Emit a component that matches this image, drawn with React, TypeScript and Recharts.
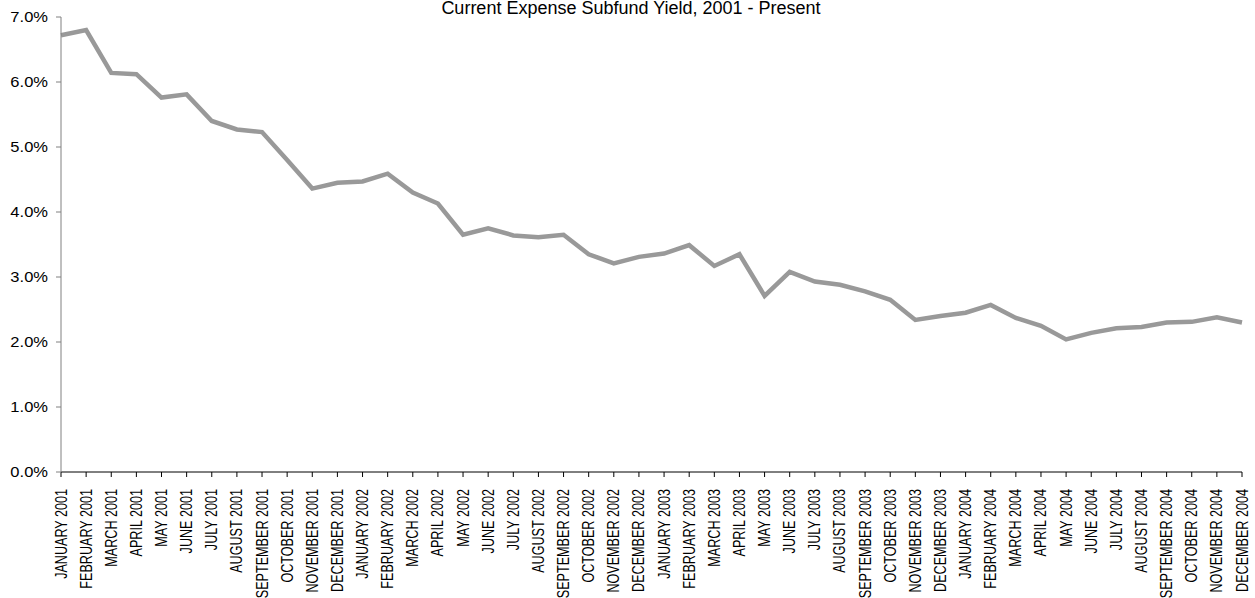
import React from 'react'
import { LineChart, Line, XAxis, YAxis } from 'recharts'

const MONTHS = [
  'JANUARY', 'FEBRUARY', 'MARCH', 'APRIL', 'MAY', 'JUNE',
  'JULY', 'AUGUST', 'SEPTEMBER', 'OCTOBER', 'NOVEMBER', 'DECEMBER',
]
const YEARS = [2001, 2002, 2003, 2004]

// monthly yield in percent, Jan 2001 through Dec 2004
const YIELD_2001 = [6.72, 6.8, 6.14, 6.12, 5.76, 5.81, 5.4, 5.27, 5.23, 4.8, 4.36, 4.45]
const YIELD_2002 = [4.47, 4.59, 4.3, 4.13, 3.65, 3.75, 3.64, 3.61, 3.65, 3.35, 3.21, 3.31]
const YIELD_2003 = [3.36, 3.49, 3.17, 3.35, 2.71, 3.08, 2.93, 2.88, 2.78, 2.65, 2.34, 2.4]
const YIELD_2004 = [2.45, 2.57, 2.37, 2.25, 2.04, 2.14, 2.21, 2.23, 2.3, 2.31, 2.38, 2.3]

const Y_TICKS = [0, 1, 2, 3, 4, 5, 6, 7]

const FONT = "Arial, 'Liberation Sans', sans-serif"

const yields = [YIELD_2001, YIELD_2002, YIELD_2003, YIELD_2004]
const data = YEARS.flatMap((year, yi) =>
  MONTHS.map((m, mi) => ({ month: `${m} ${year}`, yield: yields[yi][mi] }))
)

// month labels run bottom-to-top, glyphs widened a little
// eslint-disable-next-line @typescript-eslint/no-explicit-any
const MonthTick = ({ x, y, payload }: any) => (
  <text
    transform={`translate(${x + 5.5},${y + 12}) scale(1.32,1) rotate(-90)`}
    textAnchor="end"
    fontSize={12.6}
    fontFamily={FONT}
    fill="#000"
  >
    {payload.value}
  </text>
)

// eslint-disable-next-line @typescript-eslint/no-explicit-any
const PercentTick = ({ x, y, payload }: any) => (
  <text
    transform={`translate(${x},${y + 5}) scale(1.18,1)`}
    textAnchor="end"
    fontSize={14}
    fontFamily={FONT}
    fill="#000"
  >
    {`${payload.value.toFixed(1)}%`}
  </text>
)

export default function App() {
  return (
    <div style={{ position: 'absolute', left: 0, top: 0, width: 1255, height: 598, background: '#fff' }}>
      <div
        style={{
          position: 'absolute',
          top: 0,
          left: 0,
          width: 1262,
          textAlign: 'center',
          fontFamily: FONT,
          fontSize: 18,
          lineHeight: '17px',
          color: '#000',
          zIndex: 1,
        }}
      >
        Current Expense Subfund Yield, 2001 - Present
      </div>
      <LineChart
        width={1255}
        height={598}
        data={data}
        margin={{ top: 17, right: 13, bottom: 0, left: 0 }}
      >
        <XAxis
          dataKey="month"
          interval={0}
          height={126}
          tickSize={5}
          tickMargin={0}
          axisLine={{ stroke: '#000' }}
          tickLine={{ stroke: '#000' }}
          tick={<MonthTick />}
        />
        <YAxis
          width={61}
          domain={[0, 7]}
          ticks={Y_TICKS}
          interval={0}
          tickSize={5}
          tickMargin={8}
          axisLine={{ stroke: '#808080' }}
          tickLine={{ stroke: '#808080' }}
          tick={<PercentTick />}
        />
        <Line
          type="linear"
          dataKey="yield"
          stroke="#999999"
          strokeWidth={4.5}
          dot={false}
          isAnimationActive={false}
        />
      </LineChart>
    </div>
  )
}
